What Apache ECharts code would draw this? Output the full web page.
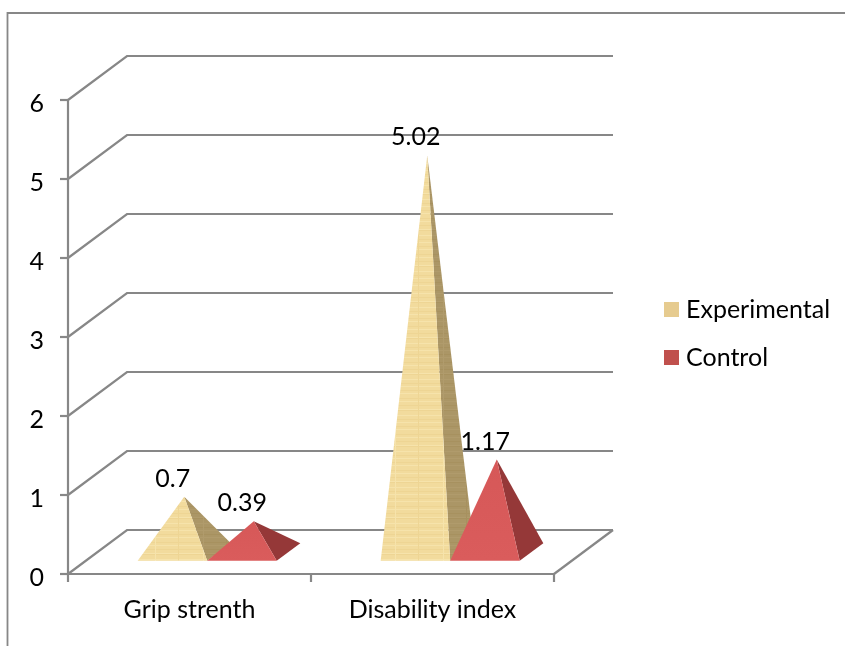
<!DOCTYPE html>
<html>
<head>
<meta charset="utf-8">
<style>html,body{margin:0;padding:0;background:#fff}#chart{width:845px;height:646px}</style>
<script src="https://cdn.jsdelivr.net/npm/echarts@6/dist/echarts.min.js"></script>
</head>
<body>
<div id="chart"></div>
<script>
// Values shown on the chart
const categories = ['Grip strenth', 'Disability index'];
const experimental = [0.7, 5.02];
const control = [0.39, 1.17];
const yTicks = [0, 1, 2, 3, 4, 5, 6];

// Oblique projection of the floor depth onto the screen
const DEPTH_X = 59, DEPTH_Y = -44;
const BASE_NEAR = 0.3, BASE_FAR = 0.7;
const BAR_SHARE = 69.5 / 243;
const GREY = '#878787';
const FONT = 'Lato, "Open Sans", sans-serif';
const TEXT_SIZE = 25;

function proj(p, d) {
  return [p[0] + DEPTH_X * d, p[1] + DEPTH_Y * d];
}

// Horizontal grain for the papyrus-like faces of the Experimental pyramids
function grain(base, dark, light) {
  const c = document.createElement('canvas');
  c.width = 48; c.height = 36;
  const g = c.getContext('2d');
  g.fillStyle = base;
  g.fillRect(0, 0, 48, 36);
  const rows = [[2, dark], [5, light], [9, dark], [13, light], [14, dark], [19, light],
                [23, dark], [26, light], [30, dark], [33, light]];
  rows.forEach(function (r) { g.fillStyle = r[1]; g.fillRect(0, r[0], 48, 1); });
  g.fillStyle = light; g.fillRect(11, 0, 1, 36);
  g.fillStyle = dark; g.fillRect(34, 0, 1, 36);
  return { image: c, repeat: 'repeat' };
}

// A pyramid standing on the floor, its apex raised to the series value
function pyramidItem(seriesIdx, front, side) {
  return function (params, api) {
    const cat = api.value(0), val = api.value(1);
    const origin = api.coord([cat, 0]);
    const band = api.size([1, 0])[0];
    const w = band * BAR_SHARE;
    const left = origin[0] + (seriesIdx === 0 ? -w : 0);
    const y0 = origin[1];
    const fl = proj([left, y0], BASE_NEAR);
    const fr = proj([left + w, y0], BASE_NEAR);
    const br = proj([left + w, y0], BASE_FAR);
    const top = api.coord([cat, val]);
    const apex = proj([left + w / 2, top[1]], (BASE_NEAR + BASE_FAR) / 2);
    return {
      type: 'group',
      children: [
        { type: 'polygon', shape: { points: [fr, br, apex] }, style: { fill: side } },
        { type: 'polygon', shape: { points: [fl, fr, apex] }, style: { fill: front } },
        {
          type: 'text', z2: 20,
          style: {
            text: String(val), x: apex[0] - 11.5, y: apex[1] - 18,
            align: 'center', verticalAlign: 'middle',
            font: TEXT_SIZE + 'px ' + FONT, fill: '#000'
          }
        }
      ]
    };
  };
}

const expFront = grain('#f2db9d', '#eed594', '#f6e3ab');
const expSide = grain('#ab9666', '#a7915f', '#b09b6c');
const ctlFront = { type: 'linear', x: 0, y: 0, x2: 0, y2: 1,
  colorStops: [{ offset: 0, color: '#d65858' }, { offset: 1, color: '#da5c5c' }] };
const ctlSide = '#953838';

// Back wall rules and the diagonals that join them to the value axis
function wallItem(params, api) {
  const tick = api.value(0);
  const rect = params.coordSys;
  const p = api.coord([0, tick]);
  const a = [rect.x, p[1]];
  const b = proj(a, 1);
  const c = [rect.x + rect.width + DEPTH_X, b[1]];
  const children = [{
    type: 'polyline', shape: { points: [a, b, c] },
    style: { fill: null, stroke: GREY, lineWidth: 2.2 }
  }];
  if (tick === 0) {
    const d = [rect.x + rect.width, p[1]];
    children.push({ type: 'line', shape: { x1: d[0], y1: d[1], x2: c[0], y2: c[1] },
      style: { stroke: GREY, lineWidth: 2.2 } });
  }
  return { type: 'group', children };
}

const chart = echarts.init(document.getElementById('chart'), null, { renderer: 'canvas' });
chart.setOption({
  animation: false,
  backgroundColor: '#fff',
  textStyle: { fontFamily: FONT },
  graphic: [{
    type: 'polyline', silent: true,
    shape: { points: [[7.5, 646], [7.5, 13], [845, 13]] },
    style: { fill: null, stroke: GREY, lineWidth: 1.8 }
  }],
  grid: { left: 68, right: 291, top: 100, bottom: 72 },
  legend: {
    orient: 'vertical', left: 664, top: 297, padding: 0, itemWidth: 15, itemHeight: 15, itemGap: 23,
    icon: 'rect', selectedMode: false,
    data: ['Experimental', 'Control'],
    textStyle: { fontSize: TEXT_SIZE, color: '#000', fontFamily: FONT, padding: [0, 0, 0, 2] }
  },
  xAxis: {
    type: 'category', data: categories, boundaryGap: true,
    axisLine: { lineStyle: { color: GREY, width: 2.2 } },
    axisTick: { show: true, alignWithLabel: false, length: 8, lineStyle: { color: GREY, width: 2.2 } },
    axisLabel: { fontSize: TEXT_SIZE, color: '#000', margin: 23, fontFamily: FONT }
  },
  yAxis: {
    type: 'value', min: 0, max: 6, interval: 1,
    axisLine: { show: true, lineStyle: { color: GREY, width: 2.2 } },
    axisTick: { show: true, length: 8, lineStyle: { color: GREY, width: 2.2 } },
    splitLine: { show: false },
    axisLabel: {
      color: '#000', margin: 24,
      formatter: '{n|{value}}',
      rich: { n: { fontSize: TEXT_SIZE, color: '#000', fontFamily: FONT, padding: [8, 0, 0, 0] } }
    }
  },
  series: [
    {
      type: 'custom', name: 'wall', silent: true, z: 1, coordinateSystem: 'cartesian2d',
      data: yTicks.map(t => [t]), encode: { y: 0 }, renderItem: wallItem, clip: false
    },
    {
      type: 'custom', name: 'Experimental', z: 3, clip: false,
      itemStyle: { color: '#e6cb8f' },
      data: experimental.map((v, i) => [i, v]), encode: { x: 0, y: 1 },
      renderItem: pyramidItem(0, expFront, expSide)
    },
    {
      type: 'custom', name: 'Control', z: 4, clip: false,
      itemStyle: { color: '#c0504d' },
      data: control.map((v, i) => [i, v]), encode: { x: 0, y: 1 },
      renderItem: pyramidItem(1, ctlFront, ctlSide)
    }
  ]
});
</script>
</body>
</html>
